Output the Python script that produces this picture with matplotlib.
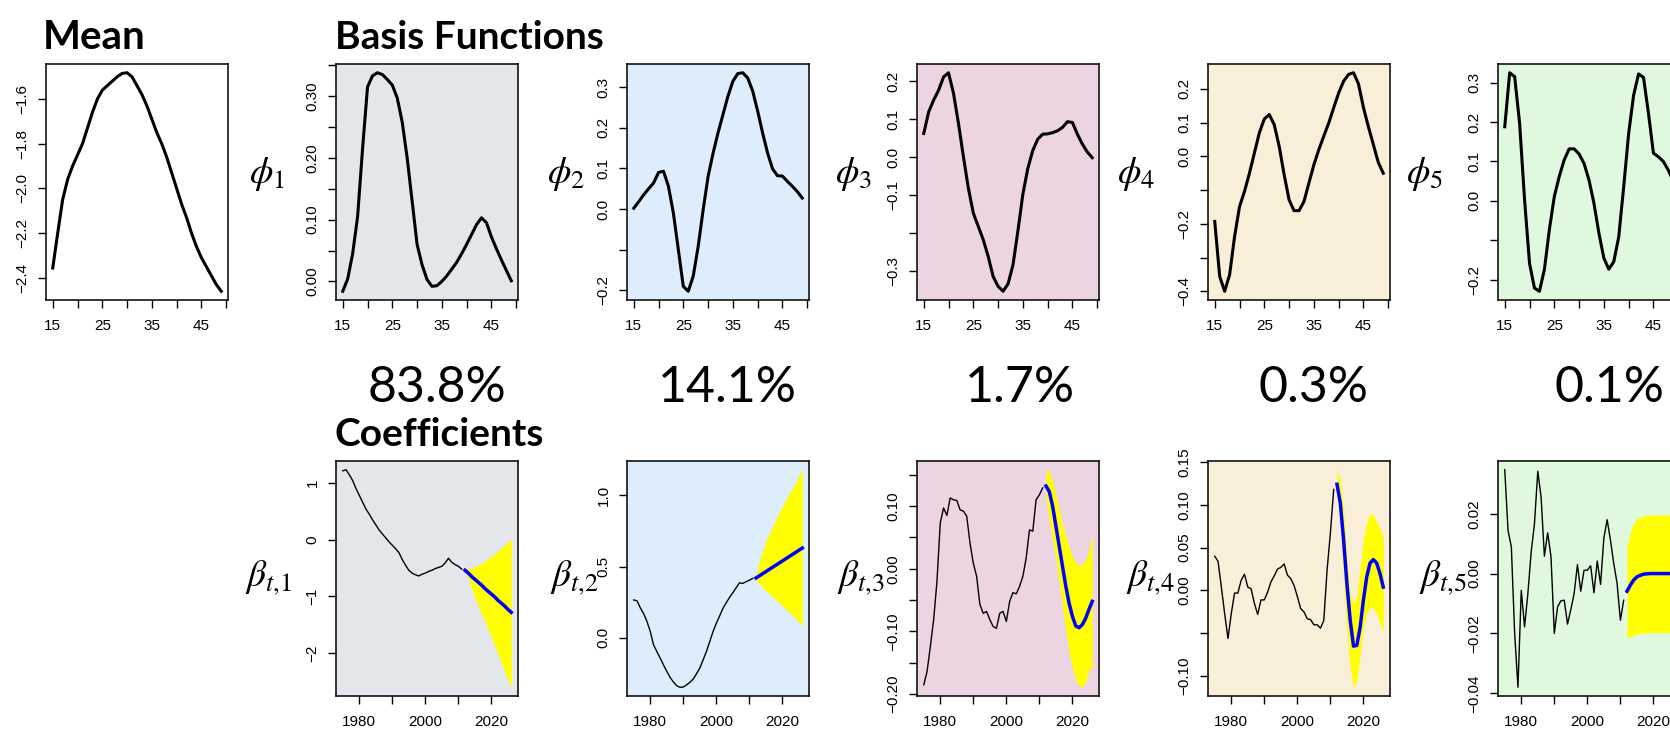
import numpy as np
import matplotlib
matplotlib.use("Agg")
import matplotlib.pyplot as plt

plt.rcParams['mathtext.fontset'] = 'stix'
plt.rcParams['font.family'] = ['Liberation Sans', 'DejaVu Sans']

W, H = 1670, 751

# ---------------- data ----------------
ages = np.arange(15, 50)

mean_rate = [-2.356, -2.20, -2.05, -1.96, -1.90, -1.85, -1.80, -1.73, -1.66, -1.60,
             -1.56, -1.54, -1.52, -1.50, -1.485, -1.482, -1.50, -1.54, -1.58, -1.63,
             -1.69, -1.75, -1.80, -1.86, -1.93, -2.00, -2.07, -2.13, -2.20, -2.26,
             -2.31, -2.35, -2.39, -2.43, -2.46]

phi1 = [-0.016, 0.004, 0.045, 0.105, 0.215, 0.315, 0.333, 0.338, 0.335, 0.327,
        0.318, 0.297, 0.258, 0.200, 0.130, 0.060, 0.027, 0.003, -0.008, -0.007,
        0.000, 0.009, 0.020, 0.031, 0.045, 0.060, 0.076, 0.092, 0.103, 0.095,
        0.072, 0.053, 0.035, 0.018, 0.001]
phi2 = [0.002, 0.018, 0.035, 0.050, 0.064, 0.090, 0.093, 0.056, -0.010, -0.100,
        -0.190, -0.202, -0.165, -0.092, -0.002, 0.080, 0.137, 0.187, 0.232, 0.277,
        0.314, 0.333, 0.335, 0.322, 0.290, 0.241, 0.187, 0.138, 0.099, 0.082,
        0.081, 0.068, 0.056, 0.043, 0.027]
phi3 = [0.062, 0.119, 0.150, 0.176, 0.211, 0.222, 0.168, 0.089, 0.001, -0.082,
        -0.148, -0.183, -0.218, -0.262, -0.315, -0.341, -0.354, -0.335, -0.285, -0.195,
        -0.098, -0.030, 0.017, 0.047, 0.060, 0.061, 0.064, 0.069, 0.078, 0.093,
        0.091, 0.060, 0.034, 0.013, -0.002]
phi4 = [-0.193, -0.356, -0.400, -0.351, -0.238, -0.149, -0.104, -0.050, 0.010, 0.070,
        0.111, 0.124, 0.094, 0.030, -0.054, -0.129, -0.161, -0.161, -0.134, -0.079,
        -0.025, 0.020, 0.060, 0.099, 0.144, 0.188, 0.223, 0.243, 0.248, 0.215,
        0.145, 0.088, 0.035, -0.018, -0.050]
phi5 = [0.188, 0.325, 0.315, 0.197, 0.003, -0.158, -0.221, -0.229, -0.174, -0.073,
        0.011, 0.062, 0.104, 0.132, 0.132, 0.119, 0.095, 0.053, -0.006, -0.082,
        -0.145, -0.173, -0.154, -0.091, 0.036, 0.171, 0.268, 0.322, 0.313, 0.222,
        0.121, 0.112, 0.100, 0.078, 0.050]

years = np.arange(1975, 2012)
years_fc = np.arange(2012, 2027)

beta1 = [1.21, 1.23, 1.14, 1.04, 0.90, 0.78, 0.66, 0.54, 0.45, 0.35,
         0.26, 0.17, 0.10, 0.03, -0.04, -0.10, -0.16, -0.23, -0.35, -0.45,
         -0.54, -0.59, -0.62, -0.64, -0.61, -0.59, -0.56, -0.54, -0.51, -0.49,
         -0.47, -0.41, -0.33, -0.40, -0.44, -0.47, -0.52]
beta1_fc = [-0.54, -0.59, -0.65, -0.70, -0.75, -0.80, -0.86, -0.91, -0.96, -1.01,
            -1.07, -1.12, -1.17, -1.23, -1.28]
beta1_hi = [-0.52, -0.51, -0.50, -0.48, -0.45, -0.42, -0.38, -0.34, -0.30, -0.25,
            -0.20, -0.15, -0.10, -0.04, 0.01]
beta1_lo = [-0.57, -0.68, -0.86, -1.02, -1.16, -1.30, -1.43, -1.57, -1.72, -1.87,
            -2.02, -2.17, -2.32, -2.47, -2.60]

beta2 = [0.266, 0.260, 0.210, 0.170, 0.115, 0.045, -0.050, -0.096, -0.142, -0.190,
         -0.235, -0.277, -0.310, -0.336, -0.347, -0.345, -0.330, -0.312, -0.289, -0.252,
         -0.212, -0.154, -0.096, -0.026, 0.044, 0.103, 0.154, 0.207, 0.247, 0.284,
         0.317, 0.352, 0.386, 0.382, 0.394, 0.405, 0.417]
beta2_fc = [0.420, 0.435, 0.450, 0.465, 0.480, 0.495, 0.510, 0.525, 0.540, 0.555,
            0.570, 0.585, 0.600, 0.615, 0.630]
beta2_hi = [0.44, 0.54, 0.61, 0.68, 0.73, 0.78, 0.83, 0.88, 0.92, 0.97,
            1.01, 1.05, 1.09, 1.14, 1.18]
beta2_lo = [0.41, 0.38, 0.355, 0.33, 0.31, 0.29, 0.266, 0.245, 0.225, 0.20,
            0.18, 0.16, 0.135, 0.11, 0.085]

beta3 = [-0.185, -0.164, -0.124, -0.081, -0.020, 0.073, 0.097, 0.085, 0.113, 0.110,
         0.109, 0.094, 0.092, 0.084, 0.041, 0.009, -0.012, -0.057, -0.071, -0.068,
         -0.081, -0.092, -0.095, -0.071, -0.068, -0.084, -0.052, -0.038, -0.040, -0.028,
         -0.012, 0.017, 0.062, 0.060, 0.110, 0.118, 0.129]
beta3_fc = [0.132, 0.123, 0.100, 0.068, 0.036, 0.004, -0.028, -0.055, -0.076, -0.091,
            -0.094, -0.089, -0.079, -0.065, -0.052]
beta3_hi = [0.158, 0.155, 0.140, 0.118, 0.094, 0.072, 0.052, 0.035, 0.020, 0.010,
            0.005, 0.007, 0.014, 0.030, 0.055]
beta3_lo = [0.110, 0.078, 0.046, 0.014, -0.023, -0.060, -0.098, -0.135, -0.158, -0.177,
            -0.186, -0.189, -0.180, -0.161, -0.156]

beta4 = [0.040, 0.034, 0.004, -0.027, -0.056, -0.027, -0.003, -0.003, 0.012, 0.019,
         0.004, 0.002, -0.015, -0.028, -0.011, -0.011, -0.002, 0.010, 0.017, 0.025,
         0.027, 0.031, 0.018, 0.014, 0.006, -0.007, -0.021, -0.025, -0.033, -0.034,
         -0.040, -0.040, -0.044, -0.035, 0.024, 0.067, 0.118]
beta4_fc = [0.124, 0.102, 0.059, 0.008, -0.035, -0.065, -0.064, -0.043, -0.011, 0.016,
            0.032, 0.036, 0.032, 0.020, 0.004]
beta4_hi = [0.141, 0.129, 0.094, 0.039, -0.004, -0.015, -0.007, 0.028, 0.059, 0.079,
            0.090, 0.088, 0.080, 0.073, 0.063]
beta4_lo = [0.115, 0.075, 0.012, -0.047, -0.090, -0.113, -0.105, -0.074, -0.043, -0.027,
            -0.019, -0.021, -0.027, -0.039, -0.048]

beta5 = [0.0347, 0.0144, 0.0089, -0.0200, -0.0380, -0.0056, -0.0178, -0.0067, 0.0072, 0.0167,
         0.0342, 0.0256, 0.0058, 0.0136, 0.0056, -0.0200, -0.0111, -0.0091, -0.0089, -0.0169,
         -0.0120, -0.0067, 0.0030, -0.0059, 0.0011, 0.0011, 0.0026, -0.0064, 0.0042, -0.0036,
         0.0119, 0.0180, 0.0111, 0.0033, -0.0033, -0.0156, -0.0089]
beta5_fc = [-0.0059, -0.0039, -0.0022, -0.0011, -0.0006, -0.0002, -0.0001, 0.0, 0.0, 0.0,
            0.0, 0.0, 0.0, 0.0, 0.0]
beta5_hi = [0.0089, 0.0139, 0.0167, 0.0183, 0.0189, 0.0192, 0.0194, 0.0195, 0.0196, 0.0196,
            0.0196, 0.0196, 0.0196, 0.0196, 0.0196]
beta5_lo = [-0.0211, -0.0213, -0.0206, -0.0202, -0.0200, -0.0199, -0.0198, -0.0197, -0.0197, -0.0197,
            -0.0197, -0.0197, -0.0197, -0.0197, -0.0197]

pct_labels = ['83.8%', '14.1%', '1.7%', '0.3%', '0.1%']

age_ticks = [15, 20, 25, 30, 35, 40, 45, 50]
age_ticklabels = ['15', '', '25', '', '35', '', '45', '']
year_ticks = [1980, 1990, 2000, 2010, 2020]
year_ticklabels = ['1980', '', '2000', '', '2020']

mean_yticks = [-2.4, -2.2, -2.0, -1.8, -1.6]
mean_ylabels = ['\u22122.4', '\u22122.2', '\u22122.0', '\u22121.8', '\u22121.6']
phi_yticks = [
    [0.00, 0.05, 0.10, 0.15, 0.20, 0.25, 0.30, 0.35],
    [-0.2, -0.1, 0.0, 0.1, 0.2, 0.3],
    [-0.3, -0.2, -0.1, 0.0, 0.1, 0.2],
    [-0.4, -0.3, -0.2, -0.1, 0.0, 0.1, 0.2],
    [-0.2, -0.1, 0.0, 0.1, 0.2, 0.3],
]
phi_ylabels = [
    ['0.00', '', '0.10', '', '0.20', '', '0.30', ''],
    ['\u22120.2', '', '0.0', '0.1', '0.2', '0.3'],
    ['\u22120.3', '', '\u22120.1', '0.0', '0.1', '0.2'],
    ['\u22120.4', '', '\u22120.2', '', '0.0', '0.1', '0.2'],
    ['\u22120.2', '', '0.0', '0.1', '0.2', '0.3'],
]
beta_yticks = [
    [-2, -1, 0, 1],
    [0.0, 0.5, 1.0],
    [-0.20, -0.15, -0.10, -0.05, 0.00, 0.05, 0.10, 0.15],
    [-0.10, -0.05, 0.00, 0.05, 0.10, 0.15],
    [-0.04, -0.02, 0.00, 0.02],
]
beta_ylabels = [
    ['\u22122', '\u22121', '0', '1'],
    ['0.0', '0.5', '1.0'],
    ['\u22120.20', '', '\u22120.10', '', '0.00', '', '0.10', ''],
    ['\u22120.10', '', '0.00', '0.05', '0.10', '0.15'],
    ['\u22120.04', '\u22120.02', '0.00', '0.02'],
]

phis = [phi1, phi2, phi3, phi4, phi5]
betas = [beta1, beta2, beta3, beta4, beta5]
betas_fc = [beta1_fc, beta2_fc, beta3_fc, beta4_fc, beta5_fc]
betas_hi = [beta1_hi, beta2_hi, beta3_hi, beta4_hi, beta5_hi]
betas_lo = [beta1_lo, beta2_lo, beta3_lo, beta4_lo, beta5_lo]

bg_colors = ['#e3e7eb', '#ddedfb', '#edd4e2', '#f9efd9', '#e0f9de']

# ---------------- layout ----------------
fig = plt.figure(figsize=(W / 100, H / 100), dpi=100)


def add_ax(left, top, bottom, width=182):
    return fig.add_axes([left / W, 1 - bottom / H, width / W, (bottom - top) / H])


def fpos(x, y):
    return x / W, 1 - y / H


def style(ax, xt, xl, yt, yl, xpad):
    ax.margins(x=0.04, y=0.04)
    ax.set_xticks(xt)
    ax.set_xticklabels(xl)
    ax.set_yticks(yt)
    ax.set_yticklabels(yl, rotation=90, va='center')
    ax.tick_params(direction='out', length=5.8, width=1, labelsize=11)
    ax.tick_params(axis='x', pad=xpad)
    ax.tick_params(axis='y', pad=6)
    for s in ax.spines.values():
        s.set_linewidth(1.1)


lefts = [336, 627, 917, 1208, 1498]

# mean
ax = add_ax(46, 64, 300)
ax.plot(ages, mean_rate, color='black', lw=2.2)
style(ax, age_ticks, age_ticklabels, mean_yticks, mean_ylabels, 8)

for i in range(5):
    ax = add_ax(lefts[i], 64, 300)
    ax.set_facecolor(bg_colors[i])
    ax.plot(ages, phis[i], color='black', lw=2.2)
    style(ax, age_ticks, age_ticklabels, phi_yticks[i], phi_ylabels[i], 8)

    ax = add_ax(lefts[i], 461, 696)
    ax.set_facecolor(bg_colors[i])
    ax.fill_between(years_fc, betas_lo[i], betas_hi[i], color='#ffff00', lw=0)
    ax.plot(years, betas[i], color='black', lw=1.0)
    ax.plot(years_fc, betas_fc[i], color='#0000ff', lw=2.5)
    style(ax, year_ticks, year_ticklabels, beta_yticks[i], beta_ylabels[i], 8)

# labels
phi_right = [285, 585, 872, 1155, 1443]
beta_right = [292, 599, 885, 1175, 1467]
pct_center = [437, 727, 1020, 1314, 1610]
for i in range(5):
    fig.text(*fpos(phi_right[i], 174), r'$\phi_{%d}$' % (i + 1), fontsize=27,
             ha='right', va='center')
    fig.text(*fpos(beta_right[i], 578), r'$\beta_{t{,}%d}$' % (i + 1), fontsize=27,
             ha='right', va='center')
    fig.text(*fpos(pct_center[i], 402), pct_labels[i], fontsize=36,
             family='Lato', ha='center', va='baseline')

fig.text(*fpos(43, 49), 'Mean', fontsize=29, family='Lato', weight='bold', va='baseline')
fig.text(*fpos(335, 49), 'Basis Functions', fontsize=28, family='Lato', weight='bold',
         va='baseline')
fig.text(*fpos(335, 446), 'Coefficients', fontsize=28, family='Lato', weight='bold',
         va='baseline')

fig.savefig('out.png', dpi=100)
